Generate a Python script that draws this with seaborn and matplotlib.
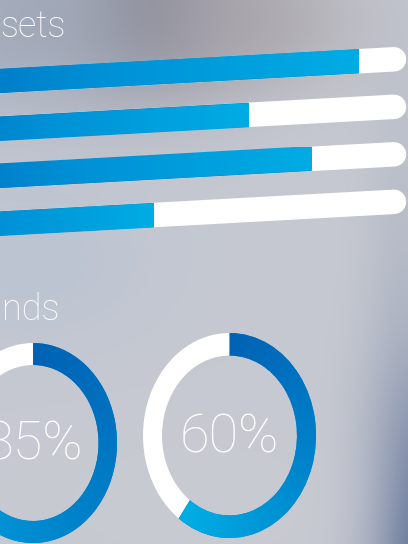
import numpy as np
import pandas as pd
import matplotlib
matplotlib.use("Agg")
import matplotlib.pyplot as plt
import seaborn as sns
from matplotlib.transforms import Affine2D
from matplotlib.colors import LinearSegmentedColormap

# ---- data ----
bar_labels = ["a", "b", "c", "d"]
bar_values = [91, 63, 79, 39]          # % of visible track
donut_labels = ["85%", "60%"]
donut_values = [85, 60]
title_top = "sets"
title_mid = "nds"

sns.set_theme(style="white")
plt.rcParams["font.family"] = ["Roboto", "DejaVu Sans"]

W, H = 408, 544
fig = plt.figure(figsize=(W / 100, H / 100), dpi=100)

# ---- blurred background ----
yy, xx = np.mgrid[0:H, 0:W].astype(float)
bg = np.zeros((H, W, 3))
base = np.array([0xc6, 0xc9, 0xd1]) / 255
bg[:] = base
def blob(cx, cy, sx, sy, col, amp):
    g = amp * np.exp(-(((xx - cx) / sx) ** 2 + ((yy - cy) / sy) ** 2) / 2)
    c = np.array(col) / 255
    return g[..., None], c
for (cx, cy, sx, sy, col, amp) in [
    (150, 10, 70, 60, (0x86, 0x84, 0x90), 0.95),
    (250, 20, 80, 50, (0xa8, 0xa2, 0xa8), 0.7),
    (20, 20, 90, 70, (0x9c, 0xa6, 0xb8), 0.8),
    (30, 260, 90, 60, (0xb8, 0xc2, 0xd2), 0.7),
    (400, 250, 25, 140, (0xae, 0xb4, 0xc2), 0.5),
    (425, 545, 40, 120, (0x5c, 0x6e, 0x94), 1.0),
    (200, 500, 140, 60, (0xcc, 0xcc, 0xd2), 0.5),
]:
    g, c = blob(cx, cy, sx, sy, col, amp)
    bg = bg * (1 - g) + c * g
axbg = fig.add_axes([0, 0, 1, 1])
axbg.imshow(bg, extent=(0, W, H, 0), aspect="auto", interpolation="bilinear")
axbg.set_axis_off()

# ---- tilted progress bars ----
bar_cmap = LinearSegmentedColormap.from_list("bar", ["#0064b8", "#0090d6", "#00acE4"])
slope = 0.055
ax = fig.add_axes([0, 0.5455, 394 / W, 0.3493])
ax.set_axis_off()
df = pd.DataFrame({"label": bar_labels, "value": bar_values})
sns.barplot(data=df, x="value", y="label", orient="h", width=0.51,
            color="#0080cc", ax=ax)
ax.set_xlim(0, 100)
skew = ax.transData + Affine2D().skew(0, np.arctan(slope))
# white tracks with round right caps
for i, _ in enumerate(bar_labels):
    ax.plot([-20, 100], [i, i], color="white", lw=24.5 * 0.72,
            solid_capstyle="round", transform=skew, clip_on=False, zorder=1)
grad = np.linspace(0, 1, 256)[None, :]
for p, v in zip(ax.patches, bar_values):
    p.set_transform(skew)
    p.set_zorder(2)
    p.set_clip_on(False)
    p.set_edgecolor("none")
    y0, h = p.get_y(), p.get_height()
    im = ax.imshow(grad, cmap=bar_cmap, extent=(-40, v, y0 + h, y0),
                   aspect="auto", transform=skew, zorder=3, interpolation="bilinear")
    im.set_clip_path(p)
ax.set_xlim(0, 100)
ax.set_ylim(3.5, -0.5)

# ---- titles ----
tk = dict(color="white", fontweight="light", fontsize=26, va="baseline", ha="left")
fig.text(0.5 / W, 1 - 37 / H, title_top, **tk)
fig.text(2 / W, 1 - 320 / H, title_mid, **tk)

# ---- donuts ----
donut_cmap = LinearSegmentedColormap.from_list("don", ["#0062b4", "#0084cc", "#00aee4"])
donut_pos = [[-51 / W, 1 / H, 168 / W, 200 / H],
             [143 / W, 6 / H, 173 / W, 205 / H]]
gy, gx = np.mgrid[1:-1:300j, -1:1:300j]
theta = np.mod(np.arctan2(gx, gy), 2 * np.pi)
for pos, val, lab in zip(donut_pos, donut_values, donut_labels):
    dax = fig.add_axes(pos)
    wedges, _ = dax.pie([val, 100 - val], startangle=90, counterclock=False,
                        colors=["#0080cc", "white"],
                        wedgeprops=dict(width=0.22, edgecolor="none"))
    dax.set_aspect("auto")
    dax.set_xlim(-1, 1)
    dax.set_ylim(-1, 1)
    t = np.clip(theta / (2 * np.pi * val / 100), 0, 1)
    im = dax.imshow(t, cmap=donut_cmap, extent=(-1, 1, -1, 1), aspect="auto",
                    zorder=3, interpolation="bilinear")
    im.set_clip_path(wedges[0])
    dax.set_xlim(-1, 1)
    dax.set_ylim(-1, 1)
    dax.text(0, -0.02, lab, ha="center", va="center", color="white",
             fontsize=39, fontweight="light", zorder=4)
    dax.set_axis_off()

fig.savefig("out.png", dpi=100)
